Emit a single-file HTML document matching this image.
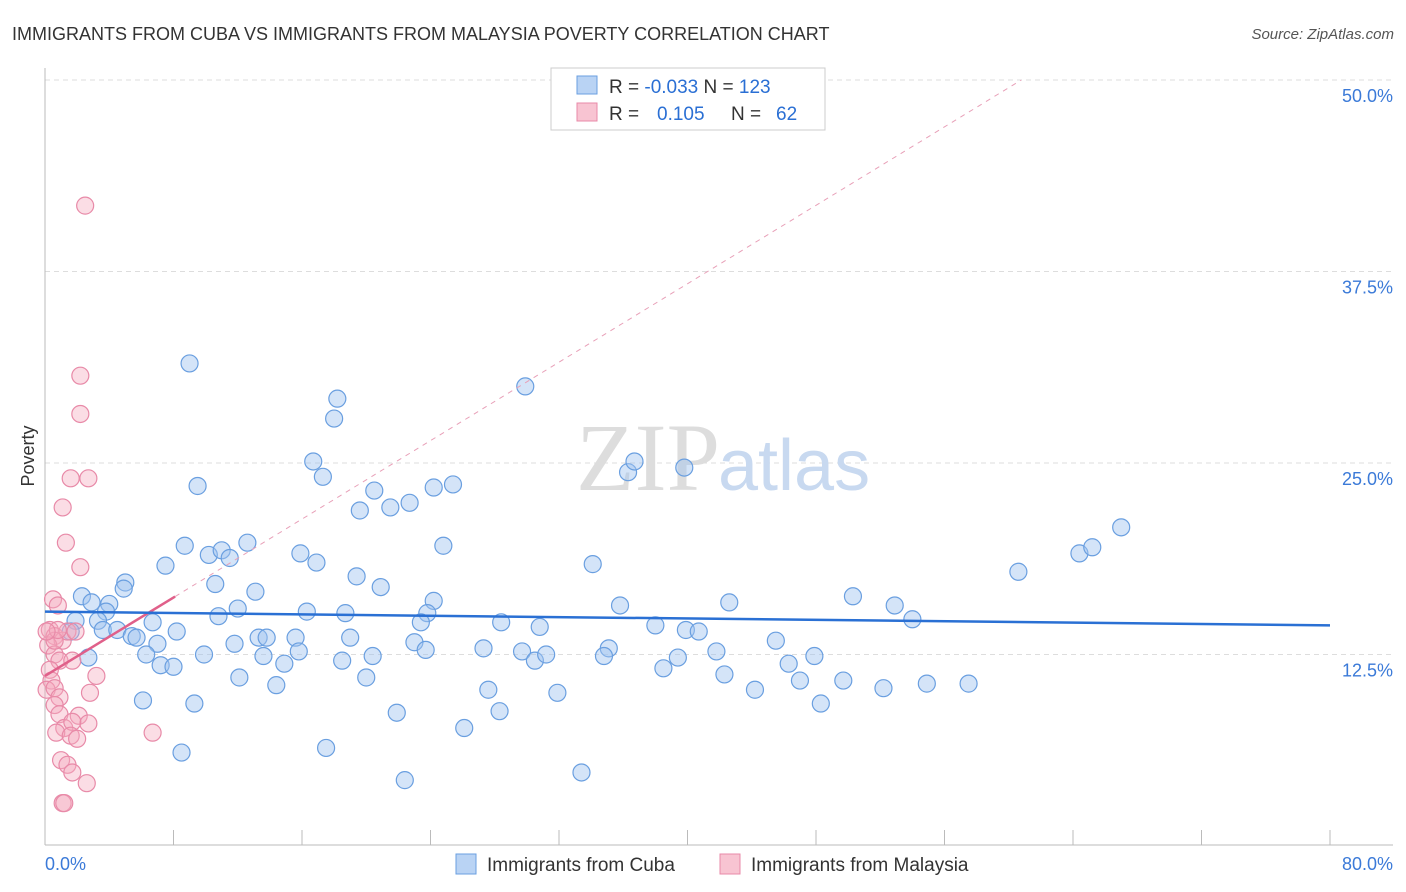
<!DOCTYPE html>
<html><head><meta charset="utf-8"><style>
body{margin:0;background:#fff;font-family:"Liberation Sans",sans-serif}
svg{display:block}
</style></head><body>
<svg width="1406" height="892" xmlns="http://www.w3.org/2000/svg">
<text x="12" y="40" font-size="18" fill="#333">IMMIGRANTS FROM CUBA VS IMMIGRANTS FROM MALAYSIA POVERTY CORRELATION CHART</text>
<text x="1394" y="39" font-size="15" fill="#555" font-style="italic" text-anchor="end">Source: ZipAtlas.com</text>
<g id="grid"></g>
<g id="axes"></g>
<text x="720" y="490" font-size="96" fill="#ddd" text-anchor="end" font-family="Liberation Serif,serif">ZIP</text>
<text x="718" y="490" font-size="72" fill="#c8d9f0">atlas</text>
<text x="34" y="456" font-size="18" fill="#333" transform="rotate(-90 34 456)" text-anchor="middle">Poverty</text>
<g id="pts"></g>
<g id="trend"></g>
<g>
<rect x="551" y="68" width="274" height="62" fill="#fff" stroke="#ccc"/>
<rect x="577" y="76" width="20" height="18" fill="#b9d3f4" stroke="#6a9fe0"/>
<rect x="577" y="103" width="20" height="18" fill="#f8c4d2" stroke="#e88aa8"/>
<text x="609" y="93" font-size="19" fill="#333">R = <tspan fill="#2a6fd4">-0.033</tspan>   N = <tspan fill="#2a6fd4">123</tspan></text>
<text x="609" y="120" font-size="19" fill="#333">R = <tspan fill="#2a6fd4" x="657">0.105</tspan><tspan x="731">N = </tspan><tspan fill="#2a6fd4" x="776">62</tspan></text>
</g>
<g>
<rect x="456" y="854" width="20" height="20" fill="#b9d3f4" stroke="#6a9fe0"/>
<text x="487" y="871" font-size="19" fill="#333">Immigrants from Cuba</text>
<rect x="720" y="854" width="20" height="20" fill="#f8c4d2" stroke="#e88aa8"/>
<text x="751" y="871" font-size="19" fill="#333">Immigrants from Malaysia</text>
</g>
</svg>
<script>
const yTicks=[12.5,25,37.5,50];
const yTickLabels=["12.5%","25.0%","37.5%","50.0%"];
const xTickLabels=["0.0%","80.0%"];
const cubaX=[9.0,9.5,8.7,7.5,5.0,4.9,2.3,2.9,4.0,3.8,3.3,1.9,1.6,3.6,4.5,5.4,5.7,6.7,7.0,8.2,6.3,2.7,7.2,8.0,6.1,9.3,8.5,10.2,11.0,11.5,12.6,10.6,13.1,12.0,10.8,11.8,13.3,13.8,9.9,13.6,12.1,14.4,14.9,15.6,15.8,15.9,16.9,16.3,16.7,17.3,18.2,18.0,19.6,20.5,19.4,21.5,22.7,20.9,18.7,19.0,18.5,20.4,20.0,17.5,21.9,22.4,24.2,24.8,25.4,24.2,23.8,23.4,23.0,23.7,27.3,28.4,27.6,28.3,26.1,29.9,30.8,29.7,30.5,31.2,31.9,33.4,34.1,35.8,35.1,34.8,36.3,36.7,39.8,38.0,38.5,39.4,39.9,40.7,41.8,42.6,42.3,44.2,45.5,46.3,47.0,47.9,48.3,49.7,50.3,52.2,52.9,54.0,54.9,57.5,60.6,64.4,65.2,67.0];
const cubaY=[31.5,23.5,19.6,18.3,17.2,16.8,16.3,15.9,15.8,15.3,14.7,14.7,14.0,14.1,14.1,13.7,13.6,14.6,13.2,14.0,12.5,12.3,11.8,11.7,9.5,9.3,6.1,19.0,19.3,18.8,19.8,17.1,16.6,15.5,15.0,13.2,13.6,13.6,12.5,12.4,11.0,10.5,11.9,13.6,12.7,19.1,18.5,15.3,25.1,24.1,29.2,27.9,21.9,23.2,17.6,22.1,22.4,16.9,15.2,13.6,12.1,12.4,11.0,6.4,8.7,4.3,23.4,19.6,23.6,16.0,15.2,14.6,13.3,12.8,12.9,14.6,10.2,8.8,7.7,30.0,14.3,12.7,12.1,12.5,10.0,4.8,18.4,15.7,12.9,12.4,24.4,25.1,24.7,14.4,11.6,12.3,14.1,14.0,12.7,15.9,11.2,10.2,13.4,11.9,10.8,12.4,9.3,10.8,16.3,10.3,15.7,14.8,10.6,10.6,17.9,19.1,19.5,20.8];
const malX=[2.5,2.2,2.2,1.6,2.7,1.1,1.3,2.2,0.5,0.8,0.3,0.6,1.1,1.4,1.9,0.2,0.6,0.9,1.7,0.3,0.4,0.1,0.6,3.2,2.8,0.9,0.6,0.9,2.1,2.7,1.2,1.7,0.7,1.6,2.0,6.7,1.0,1.4,1.7,2.6,1.1,1.2,0.6,0.8,0.1];
const malY=[41.8,30.7,28.2,24.0,24.0,22.1,19.8,18.2,16.1,15.7,14.1,13.7,13.4,14.0,14.0,13.1,12.5,12.1,12.1,11.5,10.8,10.2,10.3,11.1,10.0,9.7,9.2,8.6,8.5,8.0,7.7,8.1,7.4,7.2,7.0,7.4,5.6,5.3,4.8,4.1,2.8,2.8,13.4,14.1,14.0];
const cubaTrend=[15.3,14.4];
const malTrend=[11.1,0.64];
const NS="http://www.w3.org/2000/svg";
const X0=45,X1=1330,Y0=846,PX=191.5/12.5;
const sx=v=>X0+v/80*(X1-X0), sy=v=>Y0-v*PX;
function mk(t,a,p){const e=document.createElementNS(NS,t);for(const k in a)e.setAttribute(k,a[k]);p.appendChild(e);return e;}
const grid=document.getElementById('grid'),axes=document.getElementById('axes');
yTicks.forEach((t,i)=>{
 const l=mk('line',{x1:X0,x2:1393,y1:sy(t),y2:sy(t),stroke:'#ddd','stroke-dasharray':'5,4'},grid);
 
 
 const tx=mk('text',{x:1393,y:sy(t)+22,'font-size':18,fill:'#3b7ad8','text-anchor':'end'},axes);
 tx.textContent=yTickLabels[i];
 
 
});
const al=mk('line',{x1:X0,x2:X0,y1:68,y2:845,stroke:'#bbb'},axes);


const bl=mk('line',{x1:X0,x2:1393,y1:845,y2:845,stroke:'#bbb'},axes);


for(let k=0;k<=10;k++){const v=k*8;
 const tk=mk('line',{x1:sx(v),x2:sx(v),y1:830,y2:845,stroke:'#bbb'},axes);
 
 }
const xl0=mk('text',{x:45,y:870,'font-size':18,fill:'#3b7ad8'},axes);xl0.textContent=xTickLabels[0];


const xl1=mk('text',{x:1393,y:870,'font-size':18,fill:'#3b7ad8','text-anchor':'end'},axes);xl1.textContent=xTickLabels[1];


const pts=document.getElementById('pts');
cubaX.forEach((x,i)=>{const c=mk('circle',{cx:sx(x),cy:sy(cubaY[i]),r:8.5,fill:'rgba(160,196,240,0.45)',stroke:'#6a9fe0','stroke-width':1.2},pts);
 
 });
malX.forEach((x,i)=>{const c=mk('circle',{cx:sx(x),cy:sy(malY[i]),r:8.5,fill:'rgba(245,170,190,0.4)',stroke:'#e88aa8','stroke-width':1.2},pts);
 
 });
const tr=document.getElementById('trend');
const xEnd=(50-malTrend[0])/malTrend[1];
const d=mk('line',{x1:sx(8.1),y1:sy(malTrend[0]+malTrend[1]*8.1),x2:sx(xEnd),y2:sy(50),stroke:'#e8a0b8','stroke-dasharray':'5,5','stroke-width':1},tr);


const m=mk('line',{x1:sx(0),y1:sy(malTrend[0]),x2:sx(8.1),y2:sy(malTrend[0]+malTrend[1]*8.1),stroke:'#e0608a','stroke-width':2.5},tr);


const b=mk('line',{x1:sx(0),y1:sy(cubaTrend[0]),x2:sx(80),y2:sy(cubaTrend[1]),stroke:'#2a70d4','stroke-width':2.5},tr);


</script>
</body></html>
